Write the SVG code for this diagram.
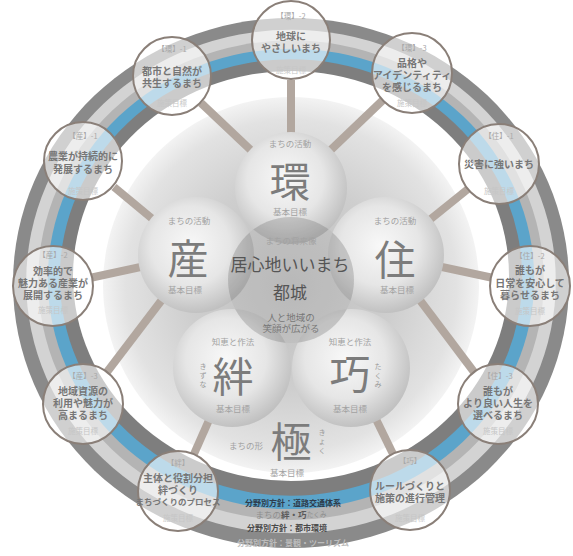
<svg xmlns="http://www.w3.org/2000/svg" width="573" height="556" viewBox="0 0 573 556">
<defs>
<radialGradient id="disk" cx="0.5" cy="0.5" r="0.5">
<stop offset="0" stop-color="#bebebe"/>
<stop offset="0.55" stop-color="#cecece"/>
<stop offset="0.88" stop-color="#e2e2e2"/>
<stop offset="1" stop-color="#f3f3f3"/>
</radialGradient>
<radialGradient id="petal" cx="0.45" cy="0.42" r="0.62">
<stop offset="0" stop-color="#f8f8f8"/>
<stop offset="0.55" stop-color="#e6e6e6"/>
<stop offset="1" stop-color="#bbbbbb"/>
</radialGradient>
<clipPath id="coreClip"><circle cx="291" cy="280" r="63"/></clipPath>
<style>
.t{font-family:"Noto Sans CJK JP","Noto Sans CJK SC",sans-serif;text-anchor:middle;dominant-baseline:central}
.lab{font-size:7.5px;fill:#a8a8a8}
.nt{font-size:10px;fill:#767676;font-weight:bold}
.fd{font-size:7.5px;fill:#c6c6c6}
.big{font-size:41px;fill:#7c7c7c}
.sm{font-size:8.5px;fill:#a2a2a2}
.vt{font-size:7px;fill:#9a9a9a}
.node circle{fill:#ffffff;fill-opacity:0.6;stroke:#8a7f78;stroke-width:2}
.conn line{stroke:#b2a79f;stroke-width:8}
</style>
</defs>
<rect width="573" height="556" fill="#ffffff"/>
<g id="ring">
<ellipse cx="291" cy="283" rx="278" ry="265" fill="#8a8a8a"/>
<ellipse cx="291" cy="281.5" rx="264.8" ry="251.8" fill="#d3d3d3"/>
<ellipse cx="291" cy="280.1" rx="252.8" ry="239.8" fill="#b4b4b4"/>
<ellipse cx="291" cy="278.9" rx="243.2" ry="230.2" fill="#5ba4ca"/>
<ellipse cx="291" cy="277.5" rx="231.2" ry="218.2" fill="#7e7e7e"/>
<ellipse cx="291" cy="276" rx="218" ry="205" fill="#ffffff"/>
</g>
<g id="band-text">
<text class="t" x="293" y="502" style="font-size:8px;fill:#2e3c4c;font-weight:bold">分野別方針：道路交通体系</text>
<text class="t" x="291" y="514" style="font-size:8.5px;fill:#8e8e8e">まちの<tspan style="fill:#5a5a5a;font-weight:bold">絆・巧</tspan><tspan style="font-size:6.5px">たくみ</tspan></text>
<text class="t" x="287" y="527" style="font-size:8px;fill:#4a4a4a;font-weight:bold">分野別方針：都市環境</text>
<text class="t" x="293" y="542" style="font-size:8px;fill:#bdbdbd;font-weight:bold">分野別方針：景観・ツーリズム</text>
</g>
<circle id="disk-bg" cx="291" cy="285" r="188" fill="url(#disk)"/>
<g id="connectors" class="conn">
<line x1="291" y1="80" x2="291" y2="188"/>
<line x1="201" y1="103" x2="291" y2="188"/>
<line x1="383" y1="100" x2="291" y2="188"/>
<line x1="114" y1="187" x2="196" y2="255"/>
<line x1="92" y1="277.5" x2="196" y2="255"/>
<line x1="107" y1="372" x2="196" y2="255"/>
<line x1="468" y1="189" x2="386" y2="255"/>
<line x1="491" y1="277.5" x2="386" y2="255"/>
<line x1="474" y1="372" x2="386" y2="255"/>
<line x1="194" y1="454" x2="232" y2="368"/>
<line x1="393" y1="454" x2="351" y2="368"/>
</g>
<g id="kyoku">
<text class="t sm" x="246" y="445">まちの形</text>
<text class="t big" x="291" y="439">極</text>
<text class="t vt" x="322" y="432">き</text>
<text class="t vt" x="322" y="441">ょ</text>
<text class="t vt" x="322" y="450">く</text>
<text class="t sm" x="287" y="472">基本目標</text>
</g>
<g id="petal-kan"><circle cx="291" cy="188" r="56" fill="url(#petal)"/></g>
<g id="petal-san"><circle cx="196" cy="255" r="58" fill="url(#petal)"/></g>
<g id="petal-ju"><circle cx="386" cy="255" r="58" fill="url(#petal)"/></g>
<g id="petal-kizuna"><circle cx="232" cy="368" r="59" fill="url(#petal)"/></g>
<g id="petal-takumi"><circle cx="351" cy="368" r="59" fill="url(#petal)"/></g>
<g id="core">
<circle cx="291" cy="280" r="63" fill="#a6a6a6" fill-opacity="0.2"/>
<g clip-path="url(#coreClip)" fill="#000" fill-opacity="0.1">
<circle cx="291" cy="188" r="56"/>
<circle cx="196" cy="255" r="58"/>
<circle cx="386" cy="255" r="58"/>
<circle cx="232" cy="368" r="59"/>
<circle cx="351" cy="368" r="59"/>
</g>
</g>
<g id="petal-text">
<text class="t sm" x="290" y="143">まちの活動</text>
<text class="t big" x="290" y="179">環</text>
<text class="t sm" x="290" y="211">基本目標</text>
<text class="t sm" x="189" y="220">まちの活動</text>
<text class="t big" x="188" y="256">産</text>
<text class="t sm" x="185" y="289">基本目標</text>
<text class="t sm" x="395" y="220">まちの活動</text>
<text class="t big" x="395" y="257">住</text>
<text class="t sm" x="397" y="289">基本目標</text>
<text class="t sm" x="233" y="341">知恵と作法</text>
<text class="t big" x="233" y="374">絆</text>
<text class="t vt" x="203" y="366">き</text>
<text class="t vt" x="203" y="375">ず</text>
<text class="t vt" x="203" y="384">な</text>
<text class="t sm" x="233" y="408">基本目標</text>
<text class="t sm" x="350" y="341">知恵と作法</text>
<text class="t big" x="350" y="371">巧</text>
<text class="t vt" x="378" y="366">た</text>
<text class="t vt" x="378" y="375">く</text>
<text class="t vt" x="378" y="384">み</text>
<text class="t sm" x="350" y="408">基本目標</text>
<text class="t sm" x="291" y="240">まちの将来像</text>
<text class="t" x="290" y="263" style="font-size:17px;fill:#555">居心地いいまち</text>
<text class="t" x="290" y="291" style="font-size:17px;fill:#555">都城</text>
<text class="t" x="291" y="317" style="font-size:9.5px;fill:#777">人と地域の</text>
<text class="t" x="291" y="328" style="font-size:9.5px;fill:#777">笑顔が広がる</text>
</g>
<g id="n-kan2" class="node"><circle cx="291" cy="40" r="39"/>
<text class="t lab" x="291" y="15">【環】-2</text>
<text class="t nt" x="291" y="35">地球に</text>
<text class="t nt" x="291" y="47">やさしいまち</text>
<text class="t fd" x="291" y="69">施策目標</text></g>
<g id="n-kan1" class="node"><circle cx="172" cy="76" r="39"/>
<text class="t lab" x="172" y="48">【環】-1</text>
<text class="t nt" x="172" y="70">都市と自然が</text>
<text class="t nt" x="172" y="82">共生するまち</text>
<text class="t fd" x="172" y="102">施策目標</text></g>
<g id="n-kan3" class="node"><circle cx="412" cy="73" r="40"/>
<text class="t lab" x="412" y="47">【環】-3</text>
<text class="t nt" x="412" y="62">品格や</text>
<text class="t nt" x="412" y="74">アイデンティティ</text>
<text class="t nt" x="412" y="86">を感じるまち</text>
<text class="t fd" x="412" y="102">施策目標</text></g>
<g id="n-san1" class="node"><circle cx="83" cy="161" r="39"/>
<text class="t lab" x="83" y="135">【産】-1</text>
<text class="t nt" x="83" y="155">農業が持続的に</text>
<text class="t nt" x="83" y="168">発展するまち</text>
<text class="t fd" x="83" y="190">施策目標</text></g>
<g id="n-ju1" class="node"><circle cx="499" cy="164" r="40"/>
<text class="t lab" x="499" y="135">【住】-1</text>
<text class="t nt" x="499" y="163">災害に強いまち</text>
<text class="t fd" x="499" y="190">施策目標</text></g>
<g id="n-san2" class="node"><circle cx="53" cy="286" r="40"/>
<text class="t lab" x="53" y="254">【産】-2</text>
<text class="t nt" x="53" y="270">効率的で</text>
<text class="t nt" x="53" y="282">魅力ある産業が</text>
<text class="t nt" x="53" y="294">展開するまち</text>
<text class="t fd" x="53" y="309">施策目標</text></g>
<g id="n-ju2" class="node"><circle cx="530" cy="286" r="40"/>
<text class="t lab" x="530" y="255">【住】-2</text>
<text class="t nt" x="530" y="269">誰もが</text>
<text class="t nt" x="530" y="282">日常を安心して</text>
<text class="t nt" x="530" y="294">暮らせるまち</text>
<text class="t fd" x="530" y="310">施策目標</text></g>
<g id="n-san3" class="node"><circle cx="83" cy="404" r="40"/>
<text class="t lab" x="83" y="375">【産】-3</text>
<text class="t nt" x="83" y="390">地域資源の</text>
<text class="t nt" x="83" y="402">利用や魅力が</text>
<text class="t nt" x="83" y="414">高まるまち</text>
<text class="t fd" x="83" y="430">施策目標</text></g>
<g id="n-ju3" class="node"><circle cx="498" cy="404" r="40"/>
<text class="t lab" x="498" y="375">【住】-3</text>
<text class="t nt" x="498" y="390">誰もが</text>
<text class="t nt" x="498" y="402">より良い人生を</text>
<text class="t nt" x="498" y="414">選べるまち</text>
<text class="t fd" x="498" y="430">施策目標</text></g>
<g id="n-kizuna" class="node"><circle cx="178" cy="491" r="40"/>
<text class="t lab" x="178" y="462">【絆】</text>
<text class="t nt" x="178" y="477">主体と役割分担</text>
<text class="t nt" x="178" y="489">絆づくり</text>
<text class="t nt" x="178" y="501" style="font-size:8.5px">まちづくりのプロセス</text>
<text class="t fd" x="178" y="517">施策目標</text></g>
<g id="n-takumi" class="node"><circle cx="410" cy="490" r="40"/>
<text class="t lab" x="410" y="460">【巧】</text>
<text class="t nt" x="410" y="485">ルールづくりと</text>
<text class="t nt" x="410" y="497">施策の進行管理</text>
<text class="t fd" x="410" y="517">施策目標</text></g>
</svg>
